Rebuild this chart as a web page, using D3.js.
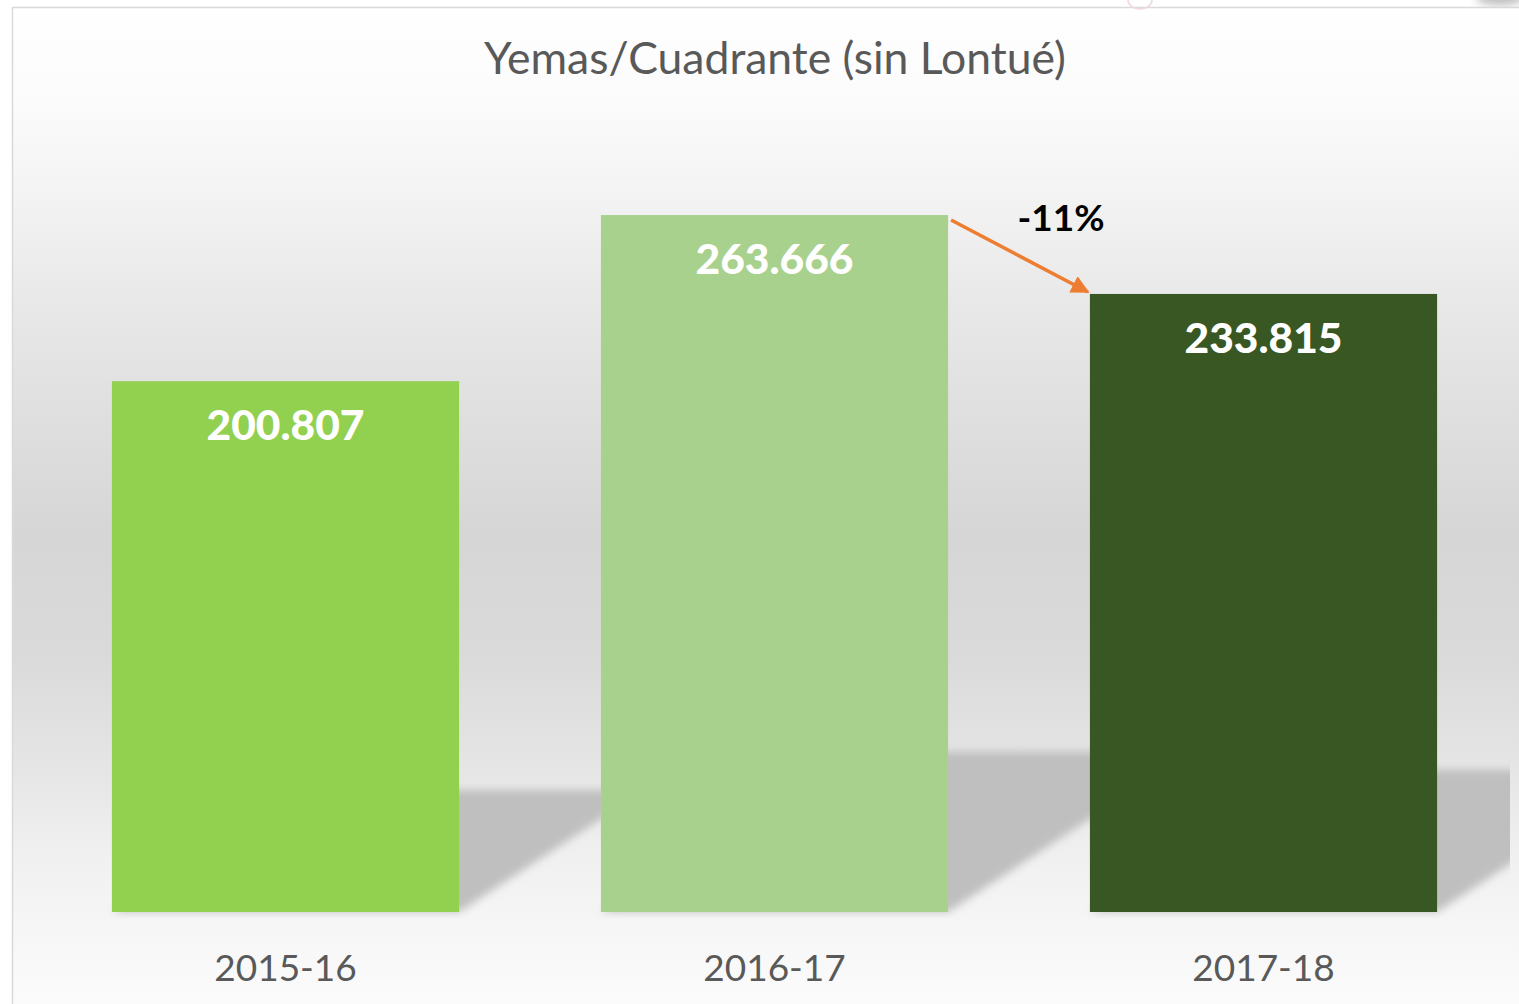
<!DOCTYPE html>
<html>
<head>
<meta charset="utf-8">
<script src="https://cdn.jsdelivr.net/npm/d3@7"></script>
<style>
html,body{margin:0;padding:0;background:#fff;}
svg{display:block;}
</style>
</head>
<body>
<script>
const categories = ["2015-16", "2016-17", "2017-18"];
const values = [200807, 263666, 233815];
const valueLabels = ["200.807", "263.666", "233.815"];
const barColors = ["#92D050", "#A9D18E", "#385723"];
const chartTitle = "Yemas/Cuadrante (sin Lontué)";
const changeLabel = "-11%";

const W = 1519, H = 1004;
const svg = d3.select("body").append("svg").attr("width", W).attr("height", H);
const defs = svg.append("defs");

const bg = defs.append("linearGradient").attr("id", "bg").attr("x1", 0).attr("y1", 0).attr("x2", 0).attr("y2", 1);
[[0, "#ffffff"], [0.1, "#fbfbfb"], [0.2, "#f2f2f2"], [0.3, "#e8e8e8"], [0.4, "#e0e0e0"], [0.53, "#d6d6d6"], [0.65, "#dadada"], [0.75, "#e4e4e4"], [0.85, "#f0f0f0"], [0.95, "#f8f8f8"], [1, "#fbfbfb"]]
  .forEach(([o, c]) => bg.append("stop").attr("offset", o).attr("stop-color", c));

const blur = defs.append("filter").attr("id", "blur").attr("x", "-10%").attr("y", "-10%").attr("width", "120%").attr("height", "120%");
blur.append("feGaussianBlur").attr("stdDeviation", 4);

defs.append("clipPath").attr("id", "plotclip").append("rect").attr("x", 12).attr("y", 8).attr("width", 1498).attr("height", 910);

defs.append("marker").attr("id", "arrowhead").attr("viewBox", "0 0 10 10").attr("refX", 9).attr("refY", 5)
  .attr("markerWidth", 5.2).attr("markerHeight", 5.2).attr("markerUnits", "strokeWidth").attr("orient", "auto")
  .append("path").attr("d", "M0,0 L10,5 L0,10 z").attr("fill", "#ED7D31");

// chart area background
svg.append("rect").attr("x", 12).attr("y", 7).attr("width", W - 12).attr("height", H - 7).attr("fill", "url(#bg)");
svg.append("path").attr("d", `M12.5,${H} V7.5 H${W}`).attr("fill", "none").attr("stroke", "#d9d9d9").attr("stroke-width", 1.5);

// small fragments above the chart (from a neighbouring object)
svg.append("path").attr("d", "M1128,0 A12,9 0 0 0 1152,0").attr("fill", "none").attr("stroke", "#f0d8dc").attr("stroke-width", 1.5);
svg.append("ellipse").attr("cx", 1500).attr("cy", -2).attr("rx", 24).attr("ry", 7).attr("fill", "#bdbdbd").attr("filter", "url(#blur)");

const x = d3.scaleBand().domain(categories).range([41, 1508]).paddingInner(0.29).paddingOuter(0.145);
const y = d3.scaleLinear().domain([0, 300000]).range([912, 119]);

const data = categories.map((c, i) => ({ c, v: values[i], label: valueLabels[i], color: barColors[i] }));

// perspective shadows
const shadowG = svg.append("g").attr("clip-path", "url(#plotclip)").append("g").attr("filter", "url(#blur)");
shadowG.selectAll("path").data(data).join("path")
  .attr("d", d => {
    const base = y(0), h = base - y(d.v);
    const sh = h * 0.23, sk = h * 0.35;
    const x0 = x(d.c), x1 = x0 + x.bandwidth();
    return `M${x0},${base} L${x1},${base} L${x1 + sk},${base - sh} L${x0 + sk},${base - sh} Z`;
  })
  .attr("fill", "#bfbfbf");

// bars
svg.append("g").selectAll("rect").data(data).join("rect")
  .attr("x", d => x(d.c)).attr("y", d => y(d.v))
  .attr("width", x.bandwidth()).attr("height", d => y(0) - y(d.v))
  .attr("fill", d => d.color);

// value labels
svg.append("g").selectAll("text").data(data).join("text")
  .attr("x", d => x(d.c) + x.bandwidth() / 2).attr("y", d => y(d.v) + 59)
  .attr("text-anchor", "middle").attr("fill", "#ffffff")
  .attr("font-family", "Lato, 'Open Sans', sans-serif").attr("font-weight", 900).attr("font-size", 42.5)
  .text(d => d.label);

// category axis
const xAxis = svg.append("g").attr("transform", `translate(0,${y(0)})`).call(d3.axisBottom(x).tickSize(0).tickPadding(0));
xAxis.select(".domain").remove();
xAxis.selectAll("text").attr("dy", 0).attr("y", 69)
  .attr("font-family", "Lato, 'Open Sans', sans-serif").attr("font-size", 37).attr("fill", "#595959");

// title
svg.append("text").attr("x", 775).attr("y", 74).attr("text-anchor", "middle")
  .attr("font-family", "Lato, 'Open Sans', sans-serif").attr("font-size", 44.5).attr("fill", "#595959")
  .text(chartTitle);

// change arrow
const b2 = data[1], b3 = data[2];
svg.append("line")
  .attr("x1", x(b2.c) + x.bandwidth() + 3).attr("y1", y(b2.v) + 5)
  .attr("x2", x(b3.c) - 2).attr("y2", y(b3.v) - 2)
  .attr("stroke", "#ED7D31").attr("stroke-width", 3.5).attr("marker-end", "url(#arrowhead)");
svg.append("text").attr("x", 1061).attr("y", 231).attr("text-anchor", "middle")
  .attr("font-family", "Lato, 'Open Sans', sans-serif").attr("font-weight", "bold").attr("font-size", 37).attr("fill", "#000")
  .text(changeLabel);
</script>
</body>
</html>
